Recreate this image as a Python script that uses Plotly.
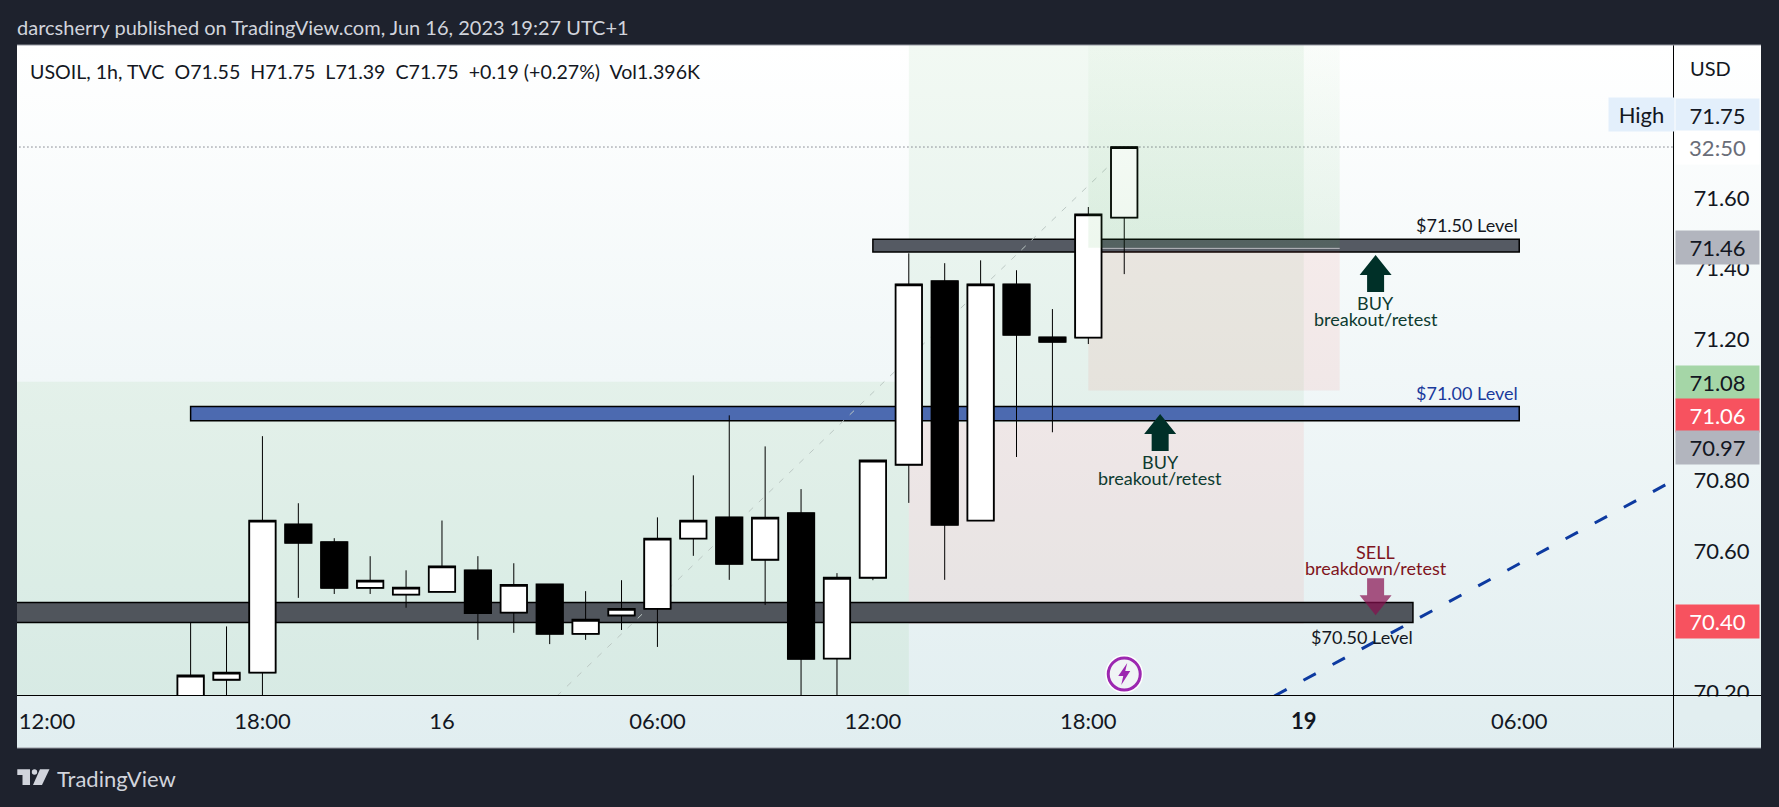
import plotly.graph_objects as go

W = 1779
H = 807
FONT = "Lato, sans-serif"

# bar index on the x axis (sessions skip an hour, so it's not a real time axis)
bars = list(range(4, 31))
opens = [70.15, 70.241, 70.261, 70.681, 70.631, 70.501, 70.482, 70.49, 70.551, 70.431, 70.511, 70.371, 70.423, 70.442,
         70.641, 70.701, 70.581, 70.713, 70.301, 70.53, 70.85, 71.37, 70.692, 71.361, 71.211, 71.21, 71.55]
highs = [70.402, 70.392, 70.931, 70.741, 70.642, 70.591, 70.551, 70.692, 70.591, 70.571, 70.511, 70.492, 70.523, 70.701,
         70.82, 70.99, 70.902, 70.781, 70.543, 70.862, 71.449, 71.421, 71.429, 71.401, 71.291, 71.58, 71.75]
lows = [70.12, 70.13, 70.13, 70.473, 70.484, 70.484, 70.445, 70.49, 70.354, 70.374, 70.342, 70.354, 70.382, 70.334,
        70.592, 70.524, 70.453, 70.13, 70.13, 70.523, 70.742, 70.524, 70.692, 70.872, 70.942, 71.192, 71.39]
closes = [70.253, 70.261, 70.692, 70.629, 70.501, 70.522, 70.502, 70.562, 70.43, 70.51, 70.371, 70.411, 70.442, 70.641,
          70.692, 70.569, 70.70, 70.30, 70.53, 70.862, 71.361, 70.68, 71.361, 71.218, 71.198, 71.559, 71.75]

time_ticks = [0, 6, 11, 17, 23, 29, 35, 41]
time_labels = ["12:00", "18:00", "16", "06:00", "12:00", "18:00", "<b>19</b>", "06:00"]
price_ticks = [70.2, 70.4, 70.6, 70.8, 71.2, 71.4, 71.6]
price_labels = ["70.20", "70.40", "70.60", "70.80", "71.20", "71.40", "71.60"]

# (left bar, right bar, bottom price, top price, colour)
zones_back = [
    (-2, 24, 70.0, 71.085, "rgba(76,175,80,0.08)"),
    (24, 35, 70.97, 72.3, "rgba(76,175,80,0.07)"),
    (24, 35, 70.40, 70.97, "rgba(244,67,54,0.08)"),
]
zones_front = [
    (29, 36, 71.06, 71.455, "rgba(244,67,54,0.08)"),
]
target_zone = (29, 36, 71.465, 72.039)
bands = [
    (23, 41, 71.453, 71.489, "#555a63"),
    (4, 41, 70.975, 71.015, "#4c6ab0"),
    (-2, 38.04, 70.403, 70.46, "#50555c"),
]

# side labels: price, text, background, text colour, pixel nudge
side_labels = [
    (71.75, "71.75", "#e3effb", "#131722", 32),
    (71.75, "32:50", "#ffffff", "#6a6d78", 0),
    (71.46, "71.46", "#b2b5be", "#131722", 1.5),
    (71.08, "71.08", "#a5d6a7", "#131722", 1.5),
    (71.06, "71.06", "#f7525f", "#ffffff", -24.5),
    (70.97, "70.97", "#b2b5be", "#131722", -25),
    (70.40, "70.40", "#f7525f", "#ffffff", 2),
]

# chart notes: bar, price, text, colour, anchor
notes = [
    (41, 71.529, "$71.50 Level", "#131722", "right"),
    (41, 71.053, "$71.00 Level", "#1a3a9c", "right"),
    (38.06, 70.362, "$70.50 Level", "#131722", "right"),
    (37, 71.308, "BUY", "#0d3b30", "center"),
    (37, 71.263, "breakout/retest", "#0d3b30", "center"),
    (31, 70.858, "BUY", "#0d3b30", "center"),
    (31, 70.812, "breakout/retest", "#0d3b30", "center"),
    (37, 70.603, "SELL", "#7f1420", "center"),
    (37, 70.557, "breakdown/retest", "#7f1420", "center"),
]

fig = go.Figure()

# background gradient of the whole panel sits on its own hidden axes
fig.add_trace(go.Scatter(
    x=[0, 1, 1, 0, 0], y=[0, 0, 1, 1, 0], fill="toself", mode="none", hoverinfo="skip", showlegend=False,
    fillgradient=dict(type="vertical", colorscale=[[0, "#e1eef0"], [1, "#ffffff"]]),
    xaxis="x", yaxis="y",
))

# target zone fades upward
tz = target_zone
fig.add_trace(go.Scatter(
    x=[tz[0], tz[1], tz[1], tz[0], tz[0]], y=[tz[2], tz[2], tz[3], tz[3], tz[2]],
    fill="toself", mode="none", hoverinfo="skip", showlegend=False, xaxis="x2", yaxis="y2",
    fillgradient=dict(type="vertical", colorscale=[[0, "rgba(76,175,80,0.1)"], [1, "rgba(76,175,80,0.03)"]]),
))

# wicks first, then bodies with a heavier outline on top
fig.add_trace(go.Candlestick(
    x=bars, open=opens, high=highs, low=lows, close=closes, xaxis="x2", yaxis="y2", showlegend=False,
    whiskerwidth=0,
    increasing=dict(line=dict(color="#000000", width=1), fillcolor="#ffffff"),
    decreasing=dict(line=dict(color="#000000", width=1), fillcolor="#000000"),
))
fig.add_trace(go.Candlestick(
    x=bars, open=opens, close=closes,
    high=[max(o, c) for o, c in zip(opens, closes)],
    low=[min(o, c) for o, c in zip(opens, closes)],
    xaxis="x2", yaxis="y2", showlegend=False, whiskerwidth=0,
    increasing=dict(line=dict(color="#000000", width=1.8), fillcolor="#ffffff"),
    decreasing=dict(line=dict(color="#000000", width=1.8), fillcolor="#000000"),
))


def zone(z):
    return dict(type="rect", xref="x2", yref="y2", x0=z[0], x1=z[1], y0=z[2], y1=z[3],
                fillcolor=z[4], line=dict(width=0), layer="below")


def band(b):
    return dict(type="rect", xref="x2", yref="y2", x0=b[0], x1=b[1], y0=b[2], y1=b[3],
                fillcolor=b[4], line=dict(color="#000000", width=1.5), layer="below")


def paper_line(x0, y0, x1, y1, color, width=1):
    return dict(type="line", xref="paper", yref="paper", x0=x0 / W, x1=x1 / W, y0=1 - y0 / H, y1=1 - y1 / H,
                line=dict(color=color, width=width), layer="above")


def px_path(points):
    d = "M" + " L".join(f"{x / W:.5f},{1 - y / H:.5f}" for x, y in points) + " Z"
    return dict(type="path", xref="paper", yref="paper", path=d, fillcolor="#d1d4dc", line=dict(width=0), layer="above")


def arrow(bar, price, up, color):
    # head and shaft in pixels around the anchor (the tip)
    s = 1 if up else -1
    pts = [(0, 0), (16, -20 * s), (8.5, -20 * s), (8.5, -37 * s), (-8.5, -37 * s), (-8.5, -20 * s), (-16, -20 * s)]
    d = "M" + " L".join(f"{x},{y}" for x, y in pts) + " Z"
    return dict(type="path", xref="x2", yref="y2", xsizemode="pixel", ysizemode="pixel", xanchor=bar, yanchor=price,
                path=d, fillcolor=color, line=dict(width=0), layer="above")


shapes = [zone(z) for z in zones_back] + [band(b) for b in bands] + [zone(z) for z in zones_front]
shapes += [
    dict(type="line", xref="x2", yref="y2", x0=29, x1=36, y0=71.463, y1=71.463,
         line=dict(color="rgba(255,255,255,0.6)", width=1), layer="below"),
    # last price line and the faint fib trend
    dict(type="line", xref="x2", yref="y2", x0=-2, x1=47, y0=71.75, y1=71.75,
         line=dict(color="#7a7d86", width=1, dash="1.5px,2.5px"), layer="below"),
    dict(type="line", xref="x2", yref="y2", x0=14.2, x1=29.66, y0=70.195, y1=71.705,
         line=dict(color="#bcc8c4", width=1, dash="6px,8px"), layer="below"),
    # blue dashed channel line
    dict(type="line", xref="x2", yref="y2", x0=34.18, x1=45.07, y0=70.195, y1=70.793,
         line=dict(color="#0d3aa0", width=3, dash="14px,19.1px"), layer="above"),
    arrow(37, 71.444, True, "#003028"),
    arrow(31, 70.994, True, "#003028"),
    arrow(37, 70.424, False, "rgba(136,14,79,0.7)"),
    # lightning marker
    dict(type="circle", xref="x2", yref="y2", xsizemode="pixel", ysizemode="pixel", xanchor=30, yanchor=70.257,
         x0=-19, x1=19, y0=-19, y1=19, fillcolor="#ffffff", line=dict(width=0), layer="above"),
    dict(type="circle", xref="x2", yref="y2", xsizemode="pixel", ysizemode="pixel", xanchor=30, yanchor=70.257,
         x0=-16, x1=16, y0=-16, y1=16, fillcolor="#f0f4f5", line=dict(color="#9c27b0", width=3), layer="above"),
    dict(type="path", xref="x2", yref="y2", xsizemode="pixel", ysizemode="pixel", xanchor=30, yanchor=70.257,
         path="M3,11 L-6,-2 L-1,-2 L-3,-11 L6,3 L1,3 Z", fillcolor="#9c27b0", line=dict(width=0), layer="above"),
    # frame: axis lines and light outer border
    paper_line(1673.5, 45, 1673.5, 748, "#000000"),
    paper_line(17, 695.5, 1761, 695.5, "#000000"),
    paper_line(17, 45, 1761, 45, "#9598a1"),
    paper_line(17, 748, 1761, 748, "#9598a1"),
    # TradingView logo
    px_path([(17.3, 769.3), (30, 769.3), (30, 785), (22.5, 785), (22.5, 775), (17.3, 775)]),
    px_path([(40, 769.3), (49.5, 769.3), (42, 785), (33, 785)]),
    dict(type="circle", xref="paper", yref="paper", x0=31.8 / W, x1=37.2 / W, y0=1 - 774.7 / H, y1=1 - 769.3 / H,
         fillcolor="#d1d4dc", line=dict(width=0), layer="above"),
]

annotations = [
    dict(xref="paper", yref="paper", x=15 / W, y=1 - 27 / H, xanchor="left", yanchor="middle", showarrow=False,
         text="darcsherry published on TradingView.com, Jun 16, 2023 19:27 UTC+1",
         font=dict(family=FONT, size=20, color="#d1d4dc")),
    dict(xref="paper", yref="paper", x=28 / W, y=1 - 72 / H, xanchor="left", yanchor="middle", showarrow=False,
         text="USOIL, 1h, TVC\u00a0\u00a0O71.55\u00a0\u00a0H71.75\u00a0\u00a0L71.39\u00a0\u00a0C71.75\u00a0\u00a0+0.19 (+0.27%)\u00a0\u00a0Vol1.396K",
         font=dict(family=FONT, size=19.6, color="#131722")),
    dict(xref="paper", yref="paper", x=1710 / W, y=1 - 68 / H, xanchor="center", yanchor="middle", showarrow=False,
         text="USD", font=dict(family=FONT, size=20, color="#131722")),
    dict(xref="paper", yref="paper", x=55 / W, y=1 - 778 / H, xanchor="left", yanchor="middle", showarrow=False,
         text="TradingView", font=dict(family=FONT, size=22, color="#d1d4dc")),
    # cover for the part of the 70.20 label that falls below the time axis line
    dict(xref="paper", yref="paper", x=1717 / W, y=1 - 708 / H, xanchor="center", yanchor="middle", showarrow=False,
         text=" ", width=84, height=22, bgcolor="#e2eef0", borderpad=0, font=dict(size=10)),
    dict(xref="paper", yref="paper", x=1641 / W, y=1 - 114 / H, xanchor="center", yanchor="middle", showarrow=False,
         text="High", width=65, height=33, bgcolor="#e3effb", borderpad=0, font=dict(family=FONT, size=22, color="#131722")),
]
for price, text, bg, fg, nudge in side_labels:
    annotations.append(dict(
        xref="paper", yref="y2", x=1674.5 / W, y=price, yshift=nudge, xanchor="left", yanchor="middle",
        showarrow=False, text=text, width=83, height=33, bgcolor=bg, borderpad=0, align="center",
        font=dict(family=FONT, size=22, color=fg),
    ))
for bar, price, text, color, anchor in notes:
    annotations.append(dict(
        xref="x2", yref="y2", x=bar, y=price, xanchor=anchor, yanchor="middle", showarrow=False, text=text,
        font=dict(family=FONT, size=18, color=color), borderpad=0,
    ))

fig.update_layout(
    width=W, height=H, autosize=False,
    margin=dict(l=0, r=0, t=0, b=0, autoexpand=False),
    paper_bgcolor="#1e222d",
    plot_bgcolor="rgba(0,0,0,0)",
    showlegend=False,
    boxgap=0.265,
    boxgroupgap=0,
    shapes=shapes,
    annotations=annotations,
    xaxis=dict(domain=[17 / W, 1761 / W], range=[0, 1], visible=False, fixedrange=True),
    yaxis=dict(domain=[1 - 748 / H, 1 - 45 / H], range=[0, 1], visible=False, fixedrange=True),
    xaxis2=dict(domain=[17 / W, 1674 / W], range=[-0.835, 45.31], anchor="y2", showgrid=False, zeroline=False,
                rangeslider=dict(visible=False), tickmode="array", tickvals=time_ticks, ticktext=time_labels,
                ticks="outside", ticklen=6, tickcolor="rgba(0,0,0,0)", showline=False,
                tickfont=dict(family=FONT, size=22, color="#131722")),
    yaxis2=dict(domain=[1 - 696 / H, 1 - 45 / H], range=[70.195, 72.039], anchor="x2", side="right", showgrid=False,
                zeroline=False, tickmode="array", tickvals=price_ticks, ticktext=price_labels,
                ticks="outside", ticklen=14, tickcolor="rgba(0,0,0,0)", showline=False, ticklabelshift=-2,
                tickfont=dict(family=FONT, size=22, color="#131722")),
)

fig.write_html("out.html", config=dict(responsive=False, displayModeBar=False),
               post_script="document.documentElement.style.overflow='hidden';document.body.style.margin='0';")
